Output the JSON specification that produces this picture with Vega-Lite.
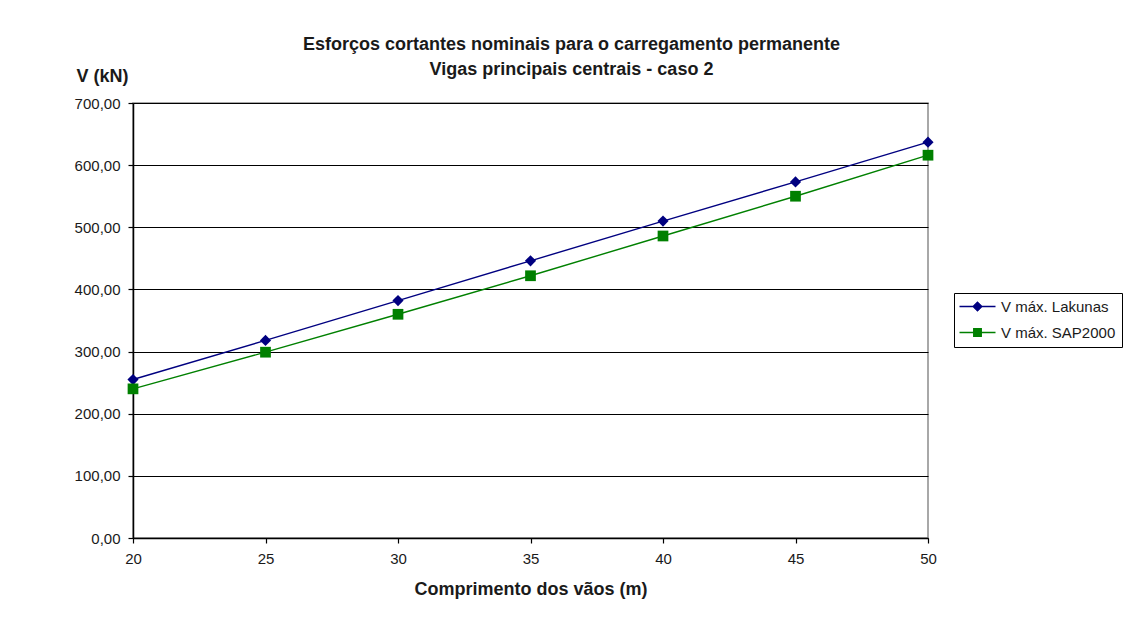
{
  "$schema": "https://vega.github.io/schema/vega-lite/v6.json",
  "width": 795,
  "height": 435,
  "autosize": {"type": "none"},
  "padding": {"left": 133, "top": 103, "right": 201, "bottom": 88},
  "background": "white",
  "config": {
    "font": "Liberation Sans",
    "view": {"stroke": "#8c8c8c", "strokeWidth": 1.5}
  },
  "title": {
    "text": ["Esforços cortantes nominais para o carregamento permanente", "Vigas principais centrais - caso 2"],
    "font": "Liberation Sans",
    "fontSize": 18,
    "fontWeight": "bold",
    "color": "#1a1a1a",
    "lineHeight": 25,
    "anchor": "middle",
    "dx": 41,
    "dy": 39,
    "offset": 27
  },
  "data": {
    "values": [
      {"vao": 20, "V": 255, "serie": "V máx. Lakunas"},
      {"vao": 25, "V": 318, "serie": "V máx. Lakunas"},
      {"vao": 30, "V": 382, "serie": "V máx. Lakunas"},
      {"vao": 35, "V": 446, "serie": "V máx. Lakunas"},
      {"vao": 40, "V": 510, "serie": "V máx. Lakunas"},
      {"vao": 45, "V": 573, "serie": "V máx. Lakunas"},
      {"vao": 50, "V": 637, "serie": "V máx. Lakunas"},
      {"vao": 20, "V": 240, "serie": "V máx. SAP2000"},
      {"vao": 25, "V": 299, "serie": "V máx. SAP2000"},
      {"vao": 30, "V": 360, "serie": "V máx. SAP2000"},
      {"vao": 35, "V": 422, "serie": "V máx. SAP2000"},
      {"vao": 40, "V": 486, "serie": "V máx. SAP2000"},
      {"vao": 45, "V": 550, "serie": "V máx. SAP2000"},
      {"vao": 50, "V": 616, "serie": "V máx. SAP2000"}
    ]
  },
  "encoding": {
    "x": {
      "field": "vao",
      "type": "quantitative",
      "scale": {"domain": [20, 50], "nice": false, "zero": false},
      "axis": {
        "values": [20, 25, 30, 35, 40, 45, 50],
        "title": "Comprimento dos vãos (m)",
        "titleFontSize": 18,
        "titleFontWeight": "bold",
        "titleColor": "#1a1a1a",
        "titlePadding": 14,
        "labelFontSize": 15,
        "labelColor": "#1a1a1a",
        "labelPadding": 8,
        "labelFlush": false,
        "grid": false,
        "domainColor": "#000",
        "domainWidth": 1.5,
        "tickColor": "#000",
        "tickSize": 5,
        "tickWidth": 1.2
      }
    },
    "y": {
      "field": "V",
      "type": "quantitative",
      "scale": {"domain": [0, 700], "nice": false},
      "axis": {
        "values": [0, 100, 200, 300, 400, 500, 600, 700],
        "labelExpr": "replace(format(datum.value, '.2f'), '.', ',')",
        "title": "V (kN)",
        "titleAngle": 0,
        "titleAlign": "left",
        "titleBaseline": "alphabetic",
        "titleX": -57,
        "titleY": -22,
        "titleFontSize": 18,
        "titleFontWeight": "bold",
        "titleColor": "#1a1a1a",
        "labelFontSize": 15,
        "labelColor": "#1a1a1a",
        "labelPadding": 8,
        "grid": true,
        "gridColor": "#000",
        "gridWidth": 1.2,
        "gridOpacity": 1,
        "domainColor": "#000",
        "domainWidth": 1.5,
        "tickColor": "#000",
        "tickSize": 5,
        "tickWidth": 1.2
      }
    },
    "color": {
      "field": "serie",
      "type": "nominal",
      "scale": {"domain": ["V máx. Lakunas", "V máx. SAP2000"], "range": ["#000080", "#008000"]},
      "legend": {
        "orient": "none",
        "legendX": 821,
        "legendY": 190,
        "title": null,
        "padding": 6,
        "strokeColor": "#000",
        "fillColor": "white",
        "labelFontSize": 15,
        "labelColor": "#1a1a1a",
        "symbolSize": 64,
        "symbolOffset": 10,
        "labelOffset": 16,
        "rowPadding": 10,
        "symbolStrokeWidth": 1.3,
        "encode": {
          "symbols": {
            "update": {
              "shape": {"signal": "datum.value === 'V máx. Lakunas' ? 'M-4.5,0H4.5M0,-1.1L1.1,0L0,1.1L-1.1,0Z' : 'M-4.5,0H4.5M-0.95,-0.95H0.95V0.95H-0.95Z'"},
              "fill": {"signal": "datum.value === 'V máx. Lakunas' ? '#000080' : '#008000'"},
              "stroke": {"signal": "datum.value === 'V máx. Lakunas' ? '#000080' : '#008000'"},
              "fillOpacity": {"value": 1},
              "strokeWidth": {"value": 1.3}
            }
          }
        }
      }
    }
  },
  "layer": [
    {
      "mark": {"type": "line", "strokeWidth": 1.4}
    },
    {
      "transform": [{"filter": "datum.serie === 'V máx. Lakunas'"}],
      "mark": {"type": "point", "filled": true, "opacity": 1, "shape": "diamond", "size": 125}
    },
    {
      "transform": [{"filter": "datum.serie === 'V máx. SAP2000'"}],
      "mark": {"type": "point", "filled": true, "opacity": 1, "shape": "square", "size": 115}
    }
  ]
}
